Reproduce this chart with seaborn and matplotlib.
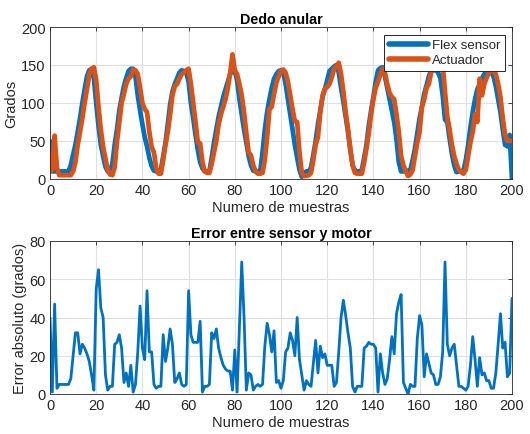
import matplotlib
matplotlib.use("Agg")
import numpy as np
import pandas as pd
import seaborn as sns
import matplotlib.pyplot as plt

muestras = list(range(201))

flex_sensor = [
    50, 10, 10, 10, 10, 10, 10, 10, 10, 18,
    32, 45, 62, 80, 100, 118, 135, 143, 145, 132,
    100, 70, 45, 30, 16, 10, 10, 20, 45, 65,
    90, 107, 122, 133, 142, 145, 145, 135, 110, 90,
    72, 55, 43, 28, 17, 11, 10, 10, 12, 30,
    48, 72, 98, 115, 125, 132, 140, 143, 142, 140,
    128, 100, 80, 58, 38, 22, 14, 10, 10, 10,
    28, 48, 65, 82, 95, 108, 118, 128, 138, 143,
    142, 130, 105, 85, 65, 48, 30, 18, 11, 10,
    10, 10, 35, 65, 88, 105, 120, 132, 138, 142,
    143, 140, 125, 105, 85, 65, 45, 28, 12, 3,
    8, 10, 10, 15, 32, 50, 72, 90, 108, 118,
    130, 142, 145, 148, 150, 140, 120, 102, 82, 62,
    38, 18, 11, 10, 10, 12, 28, 45, 70, 90,
    108, 128, 143, 146, 147, 135, 120, 105, 90, 75,
    52, 22, 10, 10, 10, 11, 12, 25, 40, 60,
    80, 95, 112, 123, 135, 143, 143, 143, 140, 133,
    110, 78, 75, 53, 33, 18, 9, 10, 10, 11,
    25, 44, 68, 88, 105, 118, 125, 132, 138, 141,
    141, 141, 135, 122, 105, 88, 65, 45, 43, 58,
    0,
]

actuador = [
    10, 12, 57, 15, 5, 5, 5, 5, 5, 5,
    10, 22, 45, 62, 80, 100, 118, 137, 145, 147,
    130, 95, 65, 42, 27, 12, 6, 5, 15, 49,
    75, 100, 112, 125, 132, 135, 144, 143, 138, 120,
    100, 92, 88, 62, 42, 35, 14, 7, 7, 25,
    45, 62, 85, 110, 122, 125, 132, 138, 140, 143,
    145, 125, 100, 75, 48, 47, 22, 10, 8, 8,
    20, 35, 50, 72, 85, 95, 105, 120, 140, 164,
    143, 138, 125, 110, 88, 60, 35, 31, 18, 10,
    7, 7, 8, 25, 55, 92, 95, 112, 127, 135,
    142, 144, 140, 128, 110, 92, 76, 75, 35, 8,
    4, 4, 5, 8, 25, 45, 55, 88, 110, 119,
    121, 125, 134, 145, 148, 153, 138, 115, 88, 66,
    40, 18, 8, 7, 7, 7, 22, 40, 60, 85,
    105, 120, 128, 137, 145, 140, 125, 113, 108, 105,
    85, 62, 30, 18, 10, 4, 6, 12, 30, 48,
    62, 95, 105, 120, 125, 140, 150, 152, 150, 150,
    150, 115, 82, 65, 45, 30, 20, 12, 9, 7,
    12, 30, 48, 62, 85, 75, 132, 110, 125, 133,
    140, 143, 143, 138, 125, 108, 80, 58, 50, 50,
    50,
]

error_abs = [
    40, 1, 47, 3, 5, 5, 5, 5, 5, 8,
    20, 32, 32, 21, 26, 24, 21, 17, 10, 2,
    55, 65, 45, 40, 10, 2, 4, 4, 26, 27,
    31, 24, 6, 11, 4, 15, 1, 5, 22, 46,
    24, 18, 54, 22, 22, 5, 3, 4, 4, 31,
    17, 24, 34, 26, 6, 8, 11, 5, 4, 5,
    54, 31, 27, 27, 27, 38, 1, 4, 4, 5,
    32, 29, 34, 24, 19, 15, 13, 12, 12, 2,
    23, 1, 35, 69, 40, 2, 11, 10, 2, 4,
    5, 4, 5, 25, 37, 31, 22, 33, 6, 7,
    3, 7, 22, 24, 32, 28, 20, 40, 18, 10,
    2, 7, 5, 4, 16, 28, 11, 25, 19, 21,
    15, 15, 15, 4, 6, 22, 40, 49, 41, 32,
    24, 4, 1, 4, 4, 4, 24, 25, 27, 26,
    26, 24, 1, 21, 11, 5, 8, 18, 30, 21,
    42, 48, 52, 6, 3, 0, 5, 4, 4, 29,
    41, 36, 9, 21, 16, 11, 10, 5, 5, 9,
    22, 69, 26, 20, 24, 26, 15, 4, 4, 3,
    2, 4, 15, 30, 18, 4, 19, 10, 11, 7,
    7, 3, 3, 11, 26, 42, 24, 27, 9, 11,
    50,
]

x_ticks = [0, 20, 40, 60, 80, 100, 120, 140, 160, 180, 200]
y_ticks_top = [0, 50, 100, 150, 200]
y_ticks_bottom = [0, 20, 40, 60, 80]

assert len(flex_sensor) == len(actuador) == len(error_abs) == len(muestras)

sns.set_theme(style="white")
plt.rcParams['font.family'] = ['Liberation Sans', 'DejaVu Sans']

W, H = 530, 435
fig = plt.figure(figsize=(W / 100, H / 100), dpi=100)
ax1 = fig.add_axes([50 / W, 1 - 180 / H, 462 / W, 152 / H])
ax2 = fig.add_axes([50 / W, 1 - 395 / H, 462 / W, 153 / H])

blue = "#0072BD"
orange = "#D95319"
dark = "#262626"

df_top = pd.DataFrame({"Numero de muestras": muestras,
                       "Flex sensor": flex_sensor,
                       "Actuador": actuador}).melt("Numero de muestras",
                                                   var_name="serie",
                                                   value_name="Grados")
sns.lineplot(data=df_top, x="Numero de muestras", y="Grados", hue="serie",
             palette={"Flex sensor": blue, "Actuador": orange},
             linewidth=3.4, ax=ax1, legend=True)

df_bot = pd.DataFrame({"Numero de muestras": muestras, "Error": error_abs})
sns.lineplot(data=df_bot, x="Numero de muestras", y="Error", color=blue,
             linewidth=2.0, ax=ax2)


def style(ax, yticks, ylim):
    ax.set_xlim(0, 200)
    ax.set_ylim(*ylim)
    ax.set_xticks(x_ticks)
    ax.set_yticks(yticks)
    ax.grid(True, color="#e0e0e0", linewidth=0.8)
    ax.set_axisbelow(True)
    for sp in ax.spines.values():
        sp.set_visible(True)
        sp.set_color(dark)
        sp.set_linewidth(0.6)
    ax.tick_params(direction="in", top=True, right=True, length=3,
                   width=0.6, colors=dark, labelsize=10.5, pad=3)


style(ax1, y_ticks_top, (0, 200))
style(ax2, y_ticks_bottom, (0, 80))

ax1.set_title("Dedo anular", fontsize=10.3, fontweight="bold", color="black", pad=3)
ax2.set_title("Error entre sensor y motor", fontsize=10.3, fontweight="bold", color="black", pad=3)
ax1.set_xlabel("Numero de muestras", fontsize=10.5, color=dark, labelpad=2)
ax2.set_xlabel("Numero de muestras", fontsize=10.5, color=dark, labelpad=2)
ax1.set_ylabel("Grados", fontsize=10.5, color=dark, labelpad=2)
ax2.set_ylabel("Error absoluto (grados)", fontsize=10.5, color=dark, labelpad=2)

h, l = ax1.get_legend_handles_labels()
leg = ax1.legend(h, l, loc="upper right", bbox_to_anchor=(0.985, 0.95),
                 frameon=True, fancybox=False, edgecolor=dark, framealpha=1,
                 fontsize=9.5, handlelength=3.0, handletextpad=0.3,
                 borderpad=0.35, labelspacing=0.2, borderaxespad=0)
leg.get_frame().set_linewidth(0.7)
for line in leg.get_lines():
    line.set_linewidth(4.0)

fig.savefig("out.png", dpi=100)
